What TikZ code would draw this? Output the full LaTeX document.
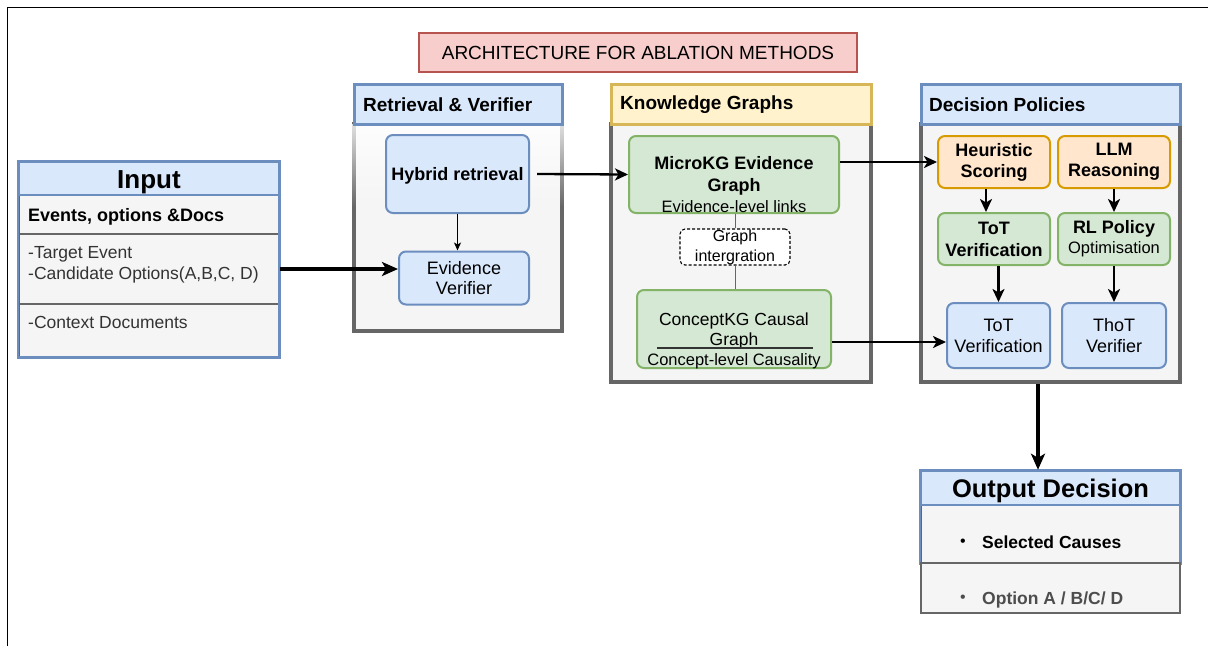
\documentclass[tikz,border=0pt]{standalone}
\usepackage{fontspec}
\setmainfont{Liberation Sans}
\usetikzlibrary{arrows.meta,fadings}
\definecolor{bfill}{HTML}{DAE8FC}
\definecolor{bstroke}{HTML}{6C8EBF}
\definecolor{gfillc}{HTML}{D5E8D4}
\definecolor{gstroke}{HTML}{82B366}
\definecolor{ofill}{HTML}{FFE6CC}
\definecolor{ostroke}{HTML}{D79B00}
\definecolor{yfill}{HTML}{FFF2CC}
\definecolor{ystroke}{HTML}{D6B656}
\definecolor{rfill}{HTML}{F8CECC}
\definecolor{rstroke}{HTML}{B85450}
\definecolor{lgray}{HTML}{F5F5F5}
\definecolor{cgray}{HTML}{666666}
\definecolor{dgray}{HTML}{333333}
\definecolor{mgray}{HTML}{4D4D4D}
\newcommand\fsz[2]{\fontsize{#1}{#2}\selectfont}
\begin{document}
\begin{tikzpicture}[x=1pt,y=-1pt,
  rbox/.style={draw, line width=2pt, rounded corners=7pt, align=center, inner sep=0pt},
  bluebox/.style={rbox, fill=bfill, draw=bstroke},
  greenbox/.style={rbox, fill=gfillc, draw=gstroke},
  orangebox/.style={rbox, fill=ofill, draw=ostroke},
  hdr/.style={draw, line width=3pt, inner sep=0pt},
  cont/.style={draw=cgray, fill=lgray, line width=4pt, inner sep=0pt},
  rowbox/.style={draw=cgray, fill=lgray, line width=1.2pt, inner sep=0pt},
  txt/.style={inner sep=0pt, align=center},
  arr/.style={-{Stealth[length=13pt,width=12pt,inset=3.5pt]}, line width=2.3pt},
  arrbig/.style={-{Stealth[length=16pt,width=14pt,inset=4pt]}, line width=3.3pt},
  arrthin/.style={-{Stealth[length=8pt,width=7pt,inset=2pt]}, line width=1pt}
]
\useasboundingbox (0,0) rectangle (1208,646);
\fill[white] (0,0) rectangle (1208,646);
% frame
\draw[line width=1.5pt] (7.5,646) -- (7.5,7.5) -- (1208,7.5);

% title
\node[draw=rstroke, fill=rfill, line width=1.5pt, minimum width=438pt, minimum height=39pt, inner sep=0pt, font=\fsz{19}{22}] (title) at (638,52.5) {ARCHITECTURE FOR ABLATION METHODS};

% input table
\node[rowbox, minimum width=260pt, minimum height=39pt] (inr1) at (149,214.5) {};
\node[rowbox, minimum width=260pt, minimum height=70pt] (inr2) at (149,269) {};
\node[rowbox, minimum width=260pt, minimum height=53pt] (inr3) at (149,330.5) {};
\node[draw=bstroke, fill=bfill, line width=2.5pt, minimum width=260pt, minimum height=33pt, inner sep=0pt] (inhead) at (149,178.5) {};
\node[inner sep=0pt, font=\fsz{26}{28}\bfseries] (inheadt) at (149,182) {Input};
\draw[bstroke, line width=2.5pt] (inhead.north west) rectangle (inr3.south east);
\node[anchor=base west, inner sep=0pt, font=\fsz{18}{21}\bfseries] (int1) at (28,221) {Events, options \&Docs};
\node[anchor=base west, inner sep=0pt, text=dgray, font=\fsz{17.5}{21}] (int2) at (28,258) {-Target Event};
\node[anchor=base west, inner sep=0pt, text=dgray, font=\fsz{17.5}{21}] (int3) at (28,279) {-Candidate Options(A,B,C, D)};
\node[anchor=base west, inner sep=0pt, text=dgray, font=\fsz{17.5}{21}] (int4) at (28,328) {-Context Documents};

% retrieval & verifier
\node[cont, minimum width=208pt, minimum height=207pt] (retc) at (458,227.5) {};
\fill[white, opacity=0.8, path fading=south] (351,124) rectangle (565,207);
\node[hdr, draw=bstroke, fill=bfill, minimum width=208pt, minimum height=40pt] (reth) at (458,104) {};
\node[anchor=west, inner sep=0pt, font=\fsz{19}{22}\bfseries] (retl) at (363,105) {Retrieval \& Verifier};
\node[bluebox, minimum width=143pt, minimum height=78pt] (hyb) at (457.5,174) {};
\node[txt, font=\fsz{18}{21}\bfseries] (hybt) at (457.5,175.5) {Hybrid retrieval};
\node[bluebox, minimum width=130pt, minimum height=53pt, font=\fsz{18}{20}] (ev) at (464,278) {Evidence\\Verifier};

% knowledge graphs
\node[cont, minimum width=260pt, minimum height=258pt] (kgc) at (741,253) {};
\node[hdr, draw=ystroke, fill=yfill, minimum width=260pt, minimum height=40pt] (kgh) at (741,104) {};
\node[anchor=west, inner sep=0pt, font=\fsz{19}{22}\bfseries] (kgl) at (620,105) {Knowledge Graphs};
\node[greenbox, minimum width=210pt, minimum height=77pt] (micro) at (734,174.5) {};
\node[txt, font=\fsz{18}{22}\bfseries] (microt) at (734,175.5) {MicroKG Evidence\\Graph};
\node[txt, font=\fsz{16.5}{18}] (microl) at (734,207) {Evidence-level links};
\node[draw=black, fill=white, line width=1.1pt, dash pattern=on 3pt off 2pt, rounded corners=5pt, minimum width=110pt, minimum height=36pt, txt, font=\fsz{16}{20}] (gi) at (735,247) {Graph\\intergration};
\node[greenbox, minimum width=194pt, minimum height=78pt] (concept) at (734,329) {};
\node[txt, font=\fsz{17.5}{20}] (conceptt) at (734,331) {ConceptKG Causal\\Graph};
\draw[line width=1.5pt, dgray] (657,348) -- (813,348);
\node[txt, font=\fsz{16.5}{18}] (conceptl) at (734,361) {Concept-level Causality};
\draw[cgray, line width=1pt] (gi.north) -- (gi.north |- micro.south);
\draw[cgray, line width=1pt] (gi.south) -- (gi.south |- concept.north);

% decision policies
\node[cont, minimum width=259pt, minimum height=258pt] (dpc) at (1050.5,253) {};
\node[hdr, draw=bstroke, fill=bfill, minimum width=259pt, minimum height=40pt] (dph) at (1050.5,104) {};
\node[anchor=west, inner sep=0pt, font=\fsz{19}{22}\bfseries] (dpl) at (929,105) {Decision Policies};
\node[orangebox, minimum width=112pt, minimum height=52pt, font=\fsz{18}{21}\bfseries] (heur) at (994,162) {Heuristic\\Scoring};
\node[orangebox, minimum width=112pt, minimum height=52pt, font=\fsz{18}{21}\bfseries] (llm) at (1114,162) {LLM\\Reasoning};
\node[greenbox, minimum width=112pt, minimum height=52pt, font=\fsz{18}{22}\bfseries] (tot1) at (994,239) {ToT\\Verification};
\node[greenbox, minimum width=112pt, minimum height=52pt, font=\fsz{18}{20}] (rl) at (1114,239) {\textbf{RL Policy}\\{\fsz{16.5}{19}Optimisation}};
\node[bluebox, minimum width=103pt, minimum height=65pt, font=\fsz{18}{21}] (tot2) at (998.5,335.5) {ToT\\Verification};
\node[bluebox, minimum width=104pt, minimum height=65pt, font=\fsz{18}{21}] (thot) at (1114,335.5) {ThoT\\Verifier};

% output decision
\node[rowbox, minimum width=259pt, minimum height=58pt] (outr1) at (1050.5,534) {};
\node[draw=bstroke, fill=bfill, line width=2.5pt, minimum width=259pt, minimum height=34pt, inner sep=0pt] (outh) at (1050.5,488) {};
\node[inner sep=0pt, font=\fsz{25.5}{28}\bfseries] (outht) at (1050.5,491) {Output Decision};
\draw[bstroke, line width=2.5pt] (outh.north west) rectangle (outr1.south east);
\node[rowbox, minimum width=259pt, minimum height=50pt] (outr2) at (1050.5,588) {};
\node[inner sep=0pt, font=\fsz{16}{18}] (b1) at (963,542.5) {\textbullet};
\node[anchor=base west, inner sep=0pt, font=\fsz{17.5}{20}\bfseries] (sel) at (982,548) {Selected Causes};
\node[inner sep=0pt, text=mgray, font=\fsz{16}{18}] (b2) at (963,598.5) {\textbullet};
\node[anchor=base west, inner sep=0pt, text=mgray, font=\fsz{17.5}{20}\bfseries] (opt) at (982,604) {Option A / B/C/ D};

% connectors
\draw[arrbig, line width=3.5pt] (inr2.east) -- (inr2.east -| ev.west);
\draw[arrthin] (hyb.south) -- (hyb.south |- ev.north);
\draw[arr] ([xshift=7pt]hyb.east) -- (micro.west);
\draw[arr] (heur.west -| micro.east) -- (heur.west);
\coordinate (c1) at ([yshift=-6.5pt]tot2.west);
\draw[arr] (c1 -| concept.east) -- (c1);
\draw[arr] ([xshift=-8pt]heur.south) -- ([xshift=-8pt]heur.south |- tot1.north);
\draw[arr] (llm.south) -- (rl.north);
\draw[arr] (tot1.south -| tot2.north) -- (tot2.north);
\draw[arr] (rl.south) -- (thot.north);
\coordinate (c2) at ([xshift=-12.5pt]dpc.south);
\draw[arrbig] (c2) -- (c2 |- outh.north);
\end{tikzpicture}
\end{document}
